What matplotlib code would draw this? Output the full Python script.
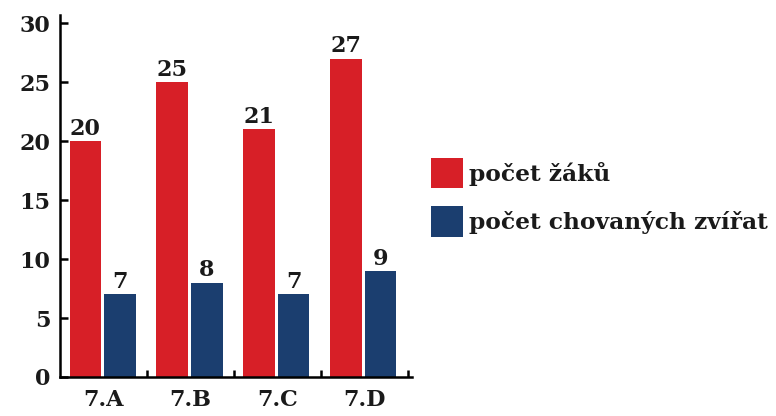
import numpy as np
import matplotlib.pyplot as plt

# data
classes = ['7.A', '7.B', '7.C', '7.D']
pupils = [20, 25, 21, 27]
animals = [7, 8, 7, 9]
series_names = ['počet žáků', 'počet chovaných zvířat']

red = '#d71f27'
blue = '#1b3e6f'

plt.rcParams['font.family'] = ['DejaVu Serif']
plt.rcParams['font.weight'] = 'bold'

fig = plt.figure(figsize=(7.76, 4.16), dpi=100)
ax = fig.add_axes([0.0773, 0.0938, 0.4537, 0.8702])

x = np.arange(len(classes))
w = 0.36
b1 = ax.bar(x - 0.21, pupils, w, color=red, label=series_names[0])
b2 = ax.bar(x + 0.19, animals, w, color=blue, label=series_names[1])

for bars, vals in [(b1, pupils), (b2, animals)]:
    for rect, v in zip(bars, vals):
        ax.text(rect.get_x() + rect.get_width() / 2, v + 0.1, str(v),
                ha='center', va='bottom', fontsize=16, color='#1a1a1a')

ax.set_xlim(-0.5, 3.55)
ax.set_ylim(0, 30.7)
ax.set_yticks([0, 5, 10, 15, 20, 25, 30])
ax.set_xticks(x)
ax.set_xticklabels(classes)
ax.set_xticks([0.5, 1.5, 2.5, 3.5], minor=True)

ax.tick_params(axis='y', direction='in', length=6, width=1.8, labelsize=16, pad=7,
               labelcolor='#1a1a1a')
ax.tick_params(axis='x', which='major', length=0, labelsize=16, pad=9,
               labelcolor='#1a1a1a')
ax.tick_params(axis='x', which='minor', direction='in', length=5, width=1.8)

for side in ['top', 'right']:
    ax.spines[side].set_visible(False)
for side in ['left', 'bottom']:
    ax.spines[side].set_linewidth(1.8)

fig.legend(handles=[b1, b2], loc='upper left', bbox_to_anchor=(0.543, 0.643),
           frameon=False, fontsize=16.8, handlelength=1.38, handleheight=1.62,
           handletextpad=0.25, labelspacing=0.78, borderaxespad=0,
           labelcolor='#1a1a1a')

fig.savefig('out.png', dpi=100)
